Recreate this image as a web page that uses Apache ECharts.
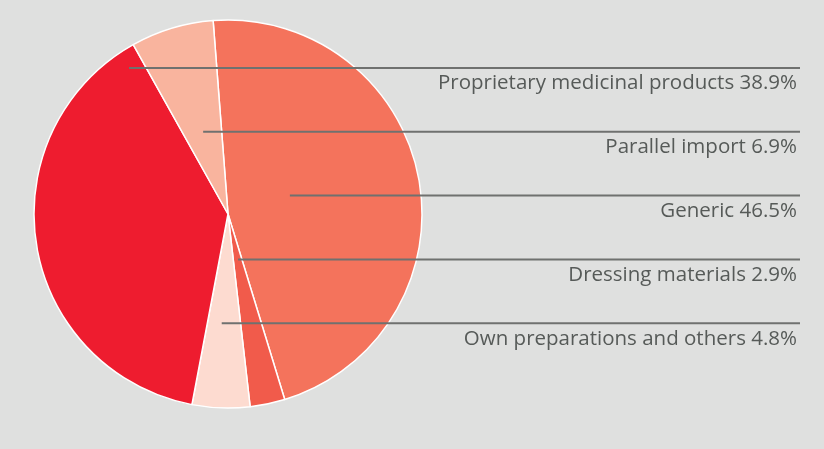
<!DOCTYPE html>
<html>
<head>
  <meta charset="utf-8">
  <title>Pie</title>
  <style>
    html, body { margin: 0; padding: 0; background: #dfe0df; }
  </style>
</head>
<body>
  <div id="main" style="width: 824px;height:449px;"></div>
</body>
<script src="https://cdn.jsdelivr.net/npm/echarts@6/dist/echarts.min.js"></script>
<script>
// slices in clockwise order, starting just left of 12 o'clock
let names = ['Generic', 'Dressing materials', 'Own preparations and others', 'Proprietary medicinal products', 'Parallel import'];
let shares = [46.5, 2.9, 4.8, 38.9, 6.9];
let colors = ['#f4735c', '#f15b4b', '#fddbd0', '#ee1c2f', '#f9b49e'];
// row of each label from top, and where inside its slice the leader line starts
let labelRow = [2, 3, 4, 0, 1];
let anchorPos = [0.465, 0.43, 0.57, 0.965, 0.5];

let cx = 228, cy = 214, r = 194;
let startAngle = 94.4;
let firstRowY = 68, rowGap = 63.8, lineEndX = 800;

let myChart = echarts.init(document.querySelector('#main'));

let total = shares.reduce((a, b) => a + b, 0);
let cum = [];
let acc = 0;
shares.forEach(v => { cum.push(acc); acc += v; });

// angle (clockwise from 12 o'clock, degrees) of the leader start in each slice
function anchorAngle(i) {
  let a0 = (90 - startAngle) + cum[i] / total * 360;
  return a0 + anchorPos[i] * shares[i] / total * 360;
}
function rowY(i) {
  return firstRowY + rowGap * labelRow[i];
}
// where the row line meets the anchor ray
function anchorX(i) {
  let ang = anchorAngle(i) * Math.PI / 180;
  let dy = rowY(i) - cy;
  return cx + Math.sin(ang) * (dy / -Math.cos(ang));
}

let data = names.map((n, i) => ({
  name: n,
  value: shares[i],
  itemStyle: { color: colors[i] }
}));

// leader lines drawn on top of the slices
let leaders = names.map((n, i) => ({
  type: 'line',
  z: 100,
  shape: { x1: anchorX(i), y1: rowY(i), x2: lineEndX, y2: rowY(i) },
  style: { stroke: '#6f716f', lineWidth: 2 }
}));

let option = {
  backgroundColor: '#dfe0df',
  animation: false,
  graphic: leaders,
  series: [{
    type: 'pie',
    center: [cx, cy],
    radius: r,
    startAngle: startAngle,
    clockwise: true,
    avoidLabelOverlap: false,
    data: data,
    itemStyle: { borderColor: '#ffffff', borderWidth: 1.5 },
    label: {
      show: true,
      position: 'outside',
      formatter: p => p.name + ' ' + p.value.toFixed(1) + '%',
      color: '#565a58',
      fontFamily: 'Open Sans',
      fontSize: 20.5
    },
    labelLine: { show: false },
    labelLayout: function (params) {
      let i = params.dataIndex;
      return {
        x: lineEndX - 3,
        y: rowY(i) + 5,
        align: 'right',
        verticalAlign: 'top'
      };
    }
  }]
};
myChart.setOption(option);
</script>
</html>
